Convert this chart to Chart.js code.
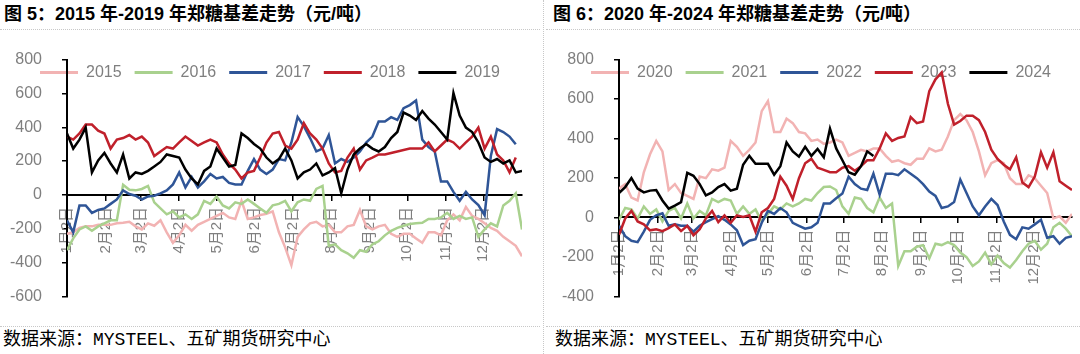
<!DOCTYPE html>
<html>
<head>
<meta charset="utf-8">
<script src="https://cdn.jsdelivr.net/npm/chart.js@4"></script>
<style>
  body { margin: 0; background: #fff; }
  #page { position: relative; width: 1080px; height: 354px; overflow: hidden;
          font-family: "Liberation Sans", "Noto Sans CJK SC", sans-serif; }
  .title { position: absolute; top: 2px; font-size: 18px; font-weight: bold; line-height: 24px;
           color: #000; white-space: nowrap; }
  .source { position: absolute; top: 328px; font-size: 18px; line-height: 24px; color: #000;
            font-family: "Liberation Mono", "Noto Sans CJK SC", monospace; white-space: nowrap; }
  .hline { position: absolute; height: 0; border-top: 1px dotted #c8c8c8; }
  .vline { position: absolute; top: 0; left: 543px; width: 0; height: 354px; border-left: 1px dotted #c8c8c8; }
  .box { position: absolute; top: 30px; width: 540px; height: 296px; }
</style>
</head>
<body>
<div id="page">
  <div class="title" style="left:4px">图 5：2015 年-2019 年郑糖基差走势（元/吨）</div>
  <div class="title" style="left:553px">图 6：2020 年-2024 年郑糖基差走势（元/吨）</div>
  <div class="hline" style="left:0;width:540px;top:29px"></div>
  <div class="hline" style="left:546px;width:534px;top:29px"></div>
  <div class="hline" style="left:0;width:540px;top:326px"></div>
  <div class="hline" style="left:546px;width:534px;top:326px"></div>
  <div class="vline"></div>
  <div class="box" style="left:0"><canvas id="left" width="540" height="296"></canvas></div>
  <div class="box" style="left:540px"><canvas id="right" width="540" height="296"></canvas></div>
  <div class="source" style="left:3px">数据来源：MYSTEEL、五矿期货研究中心</div>
  <div class="source" style="left:555px">数据来源：MYSTEEL、五矿期货研究中心</div>
</div>
<script>
// day of year (1 = 1月2日), roughly every 5 days
const days = [1,6,11,16,21,26,31,36,41,46,51,56,61,66,71,76,81,86,91,96,101,106,111,116,121,126,131,136,141,146,
  151,156,161,166,171,176,181,186,191,196,201,206,211,216,221,226,231,236,241,246,251,256,261,266,271,276,281,286,
  291,296,301,306,311,316,321,326,331,336,341,346,351,356,361,366];

const monthDays = [1, 32, 60, 91, 121, 152, 182, 213, 244, 274, 305, 335];
const monthLabels = ['1月2日','2月2日','3月2日','4月2日','5月2日','6月2日','7月2日','8月2日','9月2日','10月2日','11月2日','12月2日'];

const namesLeft = ['2015', '2016', '2017', '2018', '2019'];
const namesRight = ['2020', '2021', '2022', '2023', '2024'];
const seriesColors = ['#F2B3B3', '#A9D18E', '#2F5597', '#C0202B', '#000000'];

const basis2015 = [-230,-221,-195,-186,-186,-177,-177,-177,-168,-165,-159,-186,-204,-168,-182,-150,-221,-283,-239,-177,
  -212,-177,-159,-142,-124,-106,-133,-142,-35,-142,-133,-119,-112,-97,-221,-310,-416,-248,-204,-168,-159,-186,-177,-221,
  -221,-186,-177,-89,-186,-204,-186,-177,-230,-248,-230,-230,-257,-283,-221,-221,-239,-150,-115,-150,-71,-124,-142,-168,
  -195,-212,-248,-274,-301,-363];
const basis2016 = [-327,-257,-204,-186,-212,-186,-168,-150,-150,60,30,27,35,53,-44,-80,-115,-97,-133,-115,-142,-115,-35,
  -53,-9,-62,-80,-44,-53,-27,-53,-80,-106,-62,-53,-35,-97,-44,-27,-35,35,53,-301,-292,-327,-345,-372,-327,-336,-292,-274,
  -239,-212,-195,-182,-172,-168,-165,-142,-142,-133,-106,-142,-124,-142,-133,-248,-204,-168,-186,-62,-35,9,-204];
const basis2017 = [-150,-221,-62,-62,-106,-89,-80,-53,-27,27,5,-5,-27,-9,-5,9,27,62,133,44,106,44,80,124,97,106,71,62,62,
  142,212,150,124,150,212,204,310,460,407,336,257,274,354,186,212,195,221,257,310,345,434,434,460,443,513,531,558,327,283,
  257,80,80,18,-35,18,-27,-60,-120,230,389,372,345,300,null];
const basis2018 = [345,327,363,416,416,380,363,274,327,336,354,327,345,310,230,257,283,274,310,345,319,292,310,327,310,239,
  186,150,97,133,142,221,310,363,372,292,274,327,425,363,327,274,186,133,142,221,274,150,204,221,239,239,248,257,266,274,
  274,274,310,257,292,327,310,274,310,345,398,274,345,239,204,133,221,null];
const basis2019 = [363,274,327,398,133,204,248,186,133,239,97,133,124,142,168,195,239,230,221,150,97,62,142,168,274,221,168,
  177,363,336,301,274,221,186,212,274,204,97,133,150,186,115,133,159,10,150,239,274,301,274,257,283,336,372,487,469,443,
  496,451,416,372,327,602,469,398,372,310,221,195,212,186,204,133,142];

const basis2020 = [146,169,101,86,229,320,388,335,139,169,124,109,94,207,199,244,237,252,388,358,312,343,380,539,590,433,433,
  501,478,433,426,388,395,373,380,395,380,312,327,343,335,350,350,312,282,290,275,267,297,297,350,335,343,410,493,524,493,
  433,335,214,275,290,275,199,169,169,214,199,161,124,-5,6,-27,18];
const basis2021 = [-12,48,41,-5,56,18,41,-20,33,48,-5,71,-5,33,11,94,78,94,86,18,56,18,41,-20,18,56,41,71,56,71,94,86,124,
  154,157,139,56,18,101,94,48,26,101,48,71,-246,-171,-171,-148,-140,-208,-133,-140,-125,-140,-178,-201,-246,-223,-178,-238,
  -193,-231,-254,-216,-171,-133,-118,-163,-133,-50,-27,-57,-95];
const basis2022 = [-42,-95,-118,-125,-72,-12,11,21,-42,-35,-42,-42,-72,-42,-24,-9,6,-12,-35,-65,-140,-118,-110,-27,33,18,48,
  26,-27,-42,-57,-50,-27,71,71,97,121,207,169,146,139,222,116,222,222,214,244,222,199,169,131,109,48,56,78,192,124,56,11,
  56,94,63,-20,-88,-110,-50,-57,-35,-12,-103,-95,-133,-103,-95];
const basis2023 = [-88,-5,33,-20,-35,-65,-60,-69,-54,-35,-69,-42,-90,-60,-5,33,-24,11,-27,11,3,11,-72,26,48,94,207,161,94,
  199,275,297,252,241,229,229,252,260,237,260,290,290,350,426,388,403,410,509,478,486,640,700,735,576,471,489,516,516,493,
  433,343,297,267,244,305,177,154,207,330,252,330,184,161,139];
const basis2024 = [124,154,200,146,127,136,139,86,45,60,78,226,211,169,112,127,154,169,136,146,267,312,272,272,272,217,260,
  380,335,308,358,312,347,305,450,350,290,229,217,260,335,312,null,null,null,null,null,null,null,null,null,null,null,null,
  null,null,null,null,null,null,null,null,null,null,null,null,null,null,null,null,null,null,null,null];

const tickGray = '#7f7f7f';
Chart.defaults.font.family = '"Liberation Sans", "Noto Sans CJK SC", sans-serif';

// keep the legend on top of the plot instead of pushing it down
const legendPlace = {
  id: 'legendPlace',
  beforeInit(chart) {
    const fit = chart.legend.fit;
    chart.legend.fit = function () {
      fit.call(this);
      this.height = 8;
    };
  },
  afterLayout(chart, args, opts) {
    const lg = chart.legend;
    lg.left += opts.dx;
    lg.right += opts.dx;
    lg.height = 40;
    lg.bottom = lg.top + 40;
  }
};

function makeChart(id, names, series, yMin, yMax, padding, yWidth, legendDx) {
  const datasets = series.map((values, i) => ({
    label: names[i],
    data: values,
    borderColor: seriesColors[i],
    backgroundColor: seriesColors[i],
    borderWidth: 2.5,
    pointRadius: 0,
    tension: 0,
    order: 4 - i
  }));

  return new Chart(document.getElementById(id), {
    type: 'line',
    data: { labels: days, datasets: datasets },
    plugins: [legendPlace],
    options: {
      responsive: false,
      animation: false,
      devicePixelRatio: 1,
      layout: { padding: padding },
      plugins: {
        tooltip: { enabled: false },
        legendPlace: { dx: legendDx },
        legend: {
          position: 'top',
          labels: {
            boxWidth: 38,
            boxHeight: 3,
            padding: 13,
            color: tickGray,
            font: { size: 16 },
            sort: (a, b) => a.datasetIndex - b.datasetIndex,
            generateLabels: chart => Chart.defaults.plugins.legend.labels.generateLabels(chart)
              .map(item => Object.assign(item, { lineWidth: 0 }))
          }
        }
      },
      scales: {
        x: {
          type: 'linear',
          min: 1,
          max: 366,
          position: { y: 0 },
          afterFit: s => { s.height = 0; },
          afterBuildTicks: s => { s.ticks = monthDays.map(v => ({ value: v })); },
          grid: { drawOnChartArea: false, tickLength: 5, color: '#000', lineWidth: 1.5 },
          border: { color: '#000', width: 2 },
          ticks: {
            autoSkip: false,
            minRotation: 90,
            maxRotation: 90,
            padding: 7,
            color: tickGray,
            font: { size: 15 },
            callback: (v, i) => monthLabels[i]
          }
        },
        y: {
          min: yMin,
          max: yMax,
          afterFit: s => { s.width = yWidth; },
          grid: { drawOnChartArea: false, tickLength: 5, color: '#000', lineWidth: 1.5 },
          border: { color: '#000', width: 2 },
          ticks: { stepSize: 200, padding: 20, color: tickGray, font: { size: 16 } }
        }
      }
    }
  });
}

makeChart('left', namesLeft, [basis2015, basis2016, basis2017, basis2018, basis2019], -600, 800,
  { left: 0, right: 18, top: 9, bottom: 13 }, 67, 9);
makeChart('right', namesRight, [basis2020, basis2021, basis2022, basis2023, basis2024], -400, 800,
  { left: 0, right: 8, top: 10, bottom: 13 }, 79, 15);
</script>
</body>
</html>
